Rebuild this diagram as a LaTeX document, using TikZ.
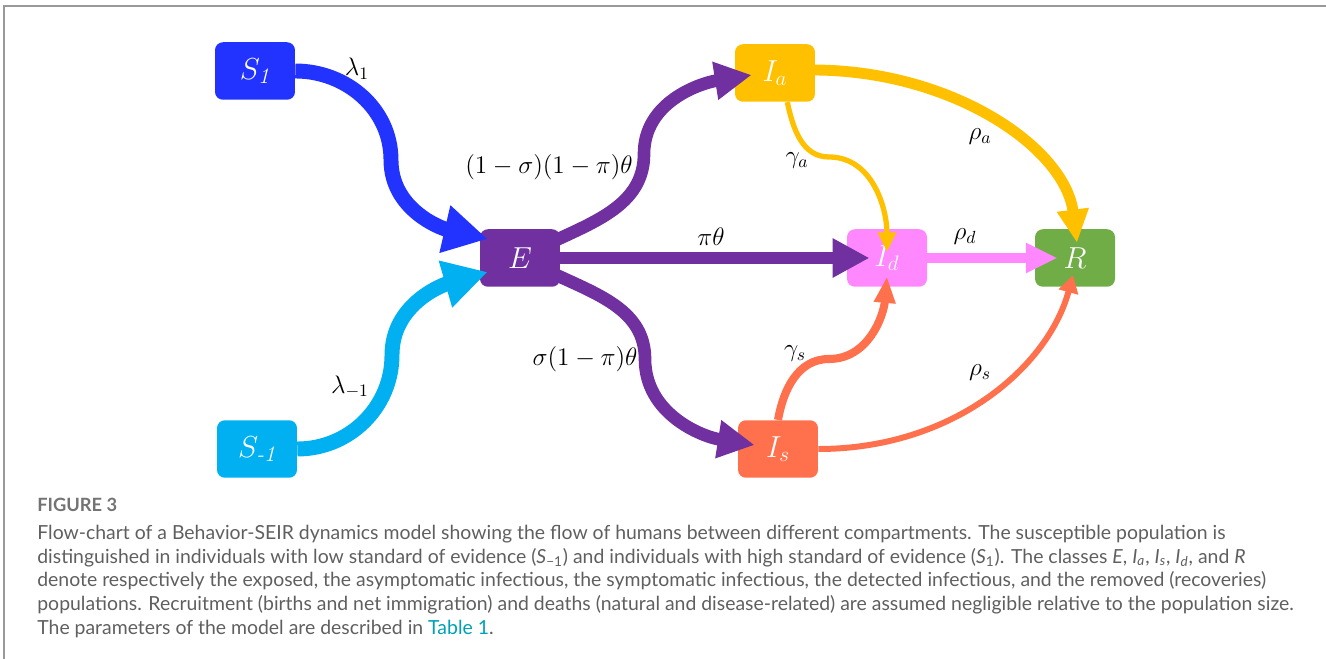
\documentclass[tikz,border=0pt]{standalone}
\usepackage{amsmath}
\usepackage{fontspec}
\newfontfamily\capfont{Lato}
\usetikzlibrary{arrows.meta,positioning}
\definecolor{royal}{RGB}{34,51,255}
\definecolor{sky}{RGB}{0,176,240}
\definecolor{grape}{RGB}{112,48,160}
\definecolor{gold}{RGB}{255,192,0}
\definecolor{orchid}{RGB}{255,136,255}
\definecolor{leaf}{RGB}{112,173,71}
\definecolor{coral}{RGB}{255,112,77}
\definecolor{link}{RGB}{0,160,180}
\definecolor{slate}{RGB}{95,95,95}
\tikzset{
  comp/.style={fill=#1,rounded corners=4.5pt,minimum width=1.6cm,minimum height=1.15cm,
    inner sep=0pt,text=white,font=\fontsize{18}{18}\selectfont},
  comp/.default=grape,
  flow/.style={draw=#1,line cap=butt},
  flow/.default=grape,
  arrowhead/.style 2 args={-{Triangle[length=#1,width=#2]}},
  rate/.style={font=\fontsize{14}{14}\selectfont,inner sep=0pt},
  frame/.style={draw=black!40,line width=1.1pt},
}

\begin{document}
\begin{tikzpicture}[x=0.02cm,y=0.02cm]
  \useasboundingbox (0,0) rectangle (1326,659);
  \draw[frame] (4,0) -- (4,653) -- (1326,653);
  % compartments
  \node[comp=royal] (S1) at (255,588) {$S_{\textit{1}}$};
  \node[comp=sky] (Sm1) at (257,210) {$S_{\textit{-1}}$};
  \node[comp=grape] (E) at (520,401) {$E$};
  \node[comp=gold] (Ia) at (775,586) {$I_a$};
  \node[comp=orchid] (Id) at (887,401) {$I_d$};
  \node[comp=leaf] (R) at (1075,401) {$R$};
  \node[comp=coral] (Is) at (778,210) {$I_s$};
  % flows
  \draw[flow=royal,line width=8.5pt,arrowhead={25pt}{26pt}] (S1.east) to[out=0,in=90] (391,499)
    to[out=-90,in=167] ([shift={(8,19)}]E.west);
  \draw[flow=sky,line width=8.5pt,arrowhead={25pt}{26pt}] (Sm1.east) to[out=0,in=-90] (392,304)
    to[out=90,in=-164] ([shift={(8,-14)}]E.west);
  \draw[flow=grape,line width=7.2pt,arrowhead={21pt}{20.5pt}] ([shift={(-4,18)}]E.east) to[out=25,in=-90] (644,505)
    to[out=90,in=189] ([shift={(17,-2)}]Ia.west);
  \draw[flow=grape,line width=7.2pt,arrowhead={21pt}{20.5pt}] ([shift={(-4,-17)}]E.east) to[out=-25,in=90] (645,300)
    to[out=-90,in=171] ([shift={(17,4)}]Is.west);
  \draw[flow=grape,line width=6.5pt,arrowhead={21pt}{21pt}] (E.east) -- ([xshift=13]Id.west);
  \draw[flow=gold,line width=3pt,arrowhead={11pt}{10pt}] ([xshift=7]Ia.south) to[out=-78,in=180] (829,502)
    to[out=0,in=90] ([yshift=-13]Id.north);
  \draw[flow=gold,line width=6.2pt,arrowhead={19pt}{17pt}] ([shift={(-3,3)}]Ia.east)
    .. controls +(140,0) and +(-12,95) .. ([shift={(2,-14)}]R.north);
  \draw[flow=orchid,line width=5.7pt,arrowhead={18pt}{16pt}] ([xshift=-5]Id.east) -- ([xshift=13]R.west);
  \draw[flow=coral,line width=4.6pt,arrowhead={15pt}{11.5pt}] (Is.north) to[out=80,in=180] (829,300)
    to[out=0,in=-95] ([yshift=6]Id.south);
  \draw[flow=coral,line width=3.4pt,arrowhead={10pt}{11pt}] (Is.east)
    .. controls +(135,0) and +(-25,-92) .. ([shift={(-2,12)}]R.south);
  % rates
  \node[rate] (l1) at (357,590) {$\lambda_1$};
  \node[rate] (lm1) at (350,272) {$\lambda_{-1}$};
  \node[rate] (q1) at (549,492) {$(1-\sigma)(1-\pi)\theta$};
  \node[rate] (q2) at (585,300) {$\sigma(1-\pi)\theta$};
  \node[rate] (q3) at (711,422) {$\pi\theta$};
  \node[rate] (ga) at (797,498) {$\gamma_a$};
  \node[rate] (gs) at (795,305) {$\gamma_s$};
  \node[rate] (ra) at (980,522) {$\rho_a$};
  \node[rate] (rd) at (965,422) {$\rho_d$};
  \node[rate] (rs) at (980,286) {$\rho_s$};
  % caption
  \node[anchor=west,inner sep=0pt,text=black!55,font=\capfont\bfseries\fontsize{10.4}{10}\selectfont] (fig) at (37,154) {FIGURE 3};
  \node[anchor=north west,inner sep=0pt,align=left,text=slate,font=\capfont\fontsize{11.05}{13.6}\selectfont] (cap) at (37,134.5)
    {Flow-chart of a Behavior-SEIR dynamics model showing the flow of humans between different compartments. The susceptible population is\\
     distinguished in individuals with low standard of evidence (\textit{S}\textsubscript{−1}) and individuals with high standard of evidence (\textit{S}\textsubscript{1}). The classes \textit{E}, \textit{I}\textsubscript{\textit{a}}, \textit{I}\textsubscript{\textit{s}}, \textit{I}\textsubscript{\textit{d}}, and \textit{R}\\
     denote respectively the exposed, the asymptomatic infectious, the symptomatic infectious, the detected infectious, and the removed (recoveries)\\
     populations. Recruitment (births and net immigration) and deaths (natural and disease-related) are assumed negligible relative to the population size.\\
     The parameters of the model are described in \textcolor{link}{Table 1}.};
\end{tikzpicture}
\end{document}
